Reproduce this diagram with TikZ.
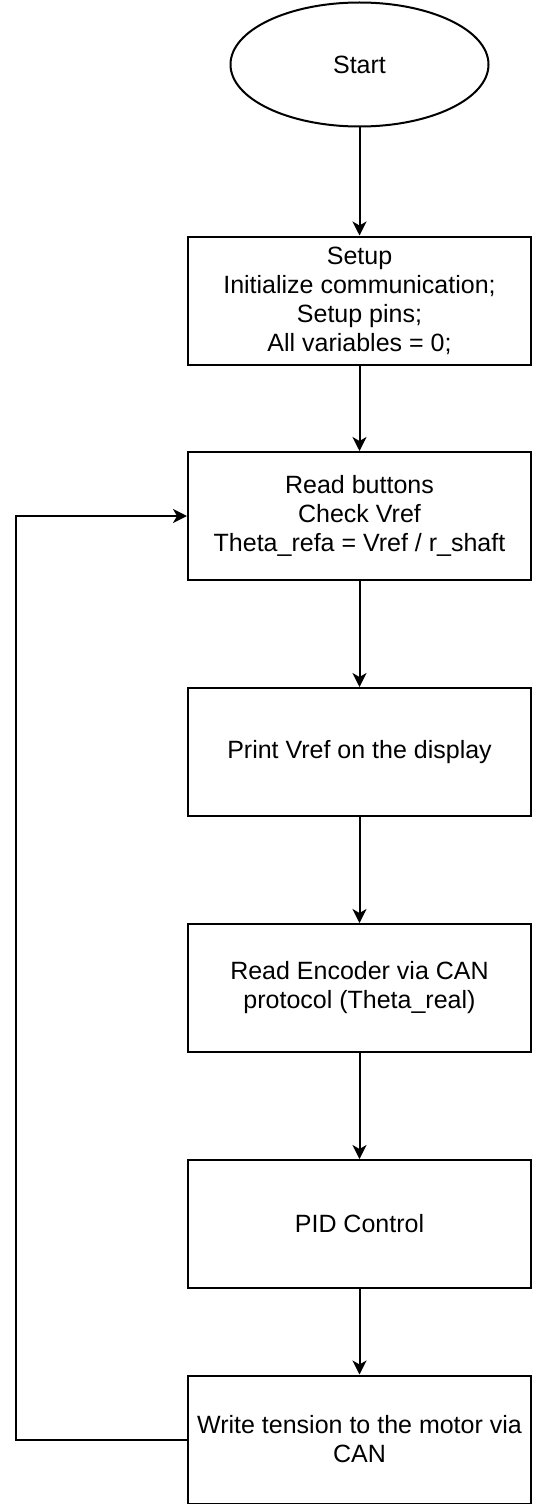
\documentclass[tikz,border=0pt]{standalone}
\usepackage{fontspec}
\setmainfont{Liberation Sans}
\usetikzlibrary{positioning,shapes.geometric,arrows.meta}

\begin{document}
\begin{tikzpicture}[node distance=118pt, on grid,
            every node/.style={font=\fontsize{12.5}{14.5}\selectfont},
            block/.style={draw, line width=1pt, minimum width=171.5pt,
              minimum height=64pt, align=center, inner sep=0pt},
            startstop/.style={draw, ellipse, line width=1pt,
              minimum width=129pt, minimum height=62pt},
            line/.style={draw, line width=1pt, -{Stealth[length=7pt,width=7pt,inset=2pt]}}
        ]
          \useasboundingbox (0,0) rectangle (266pt,-752pt);
          \node[startstop] (start) at (179.75pt,-32.25pt) {Start};
          \node[block] (setup) [below=of start] {Setup\\Initialize communication;\\Setup pins;\\All variables = 0;};
          \node[block] (read) [below=107.75pt of setup] {Read buttons\\Check Vref\\Theta\_refa = Vref / r\_shaft};
          \node[block] (print) [below=of read] {Print Vref on the display};
          \node[block] (encoder) [below=of print] {Read Encoder via CAN\\protocol (Theta\_real)};
          \node[block] (pid) [below=of encoder] {PID Control};
          \node[block] (write) [below=107.75pt of pid] {Write tension to the motor via\\CAN};
          \coordinate (back) at (8pt,0);
          \path[line] (start) -- (setup);
          \path[line] (setup) -- (read);
          \path[line] (read) -- (print);
          \path[line] (print) -- (encoder);
          \path[line] (encoder) -- (pid);
          \path[line] (pid) -- (write);
          \path[line] (write.west) -- (write.west -| back) |- (read.west);
        \end{tikzpicture}
\end{document}
